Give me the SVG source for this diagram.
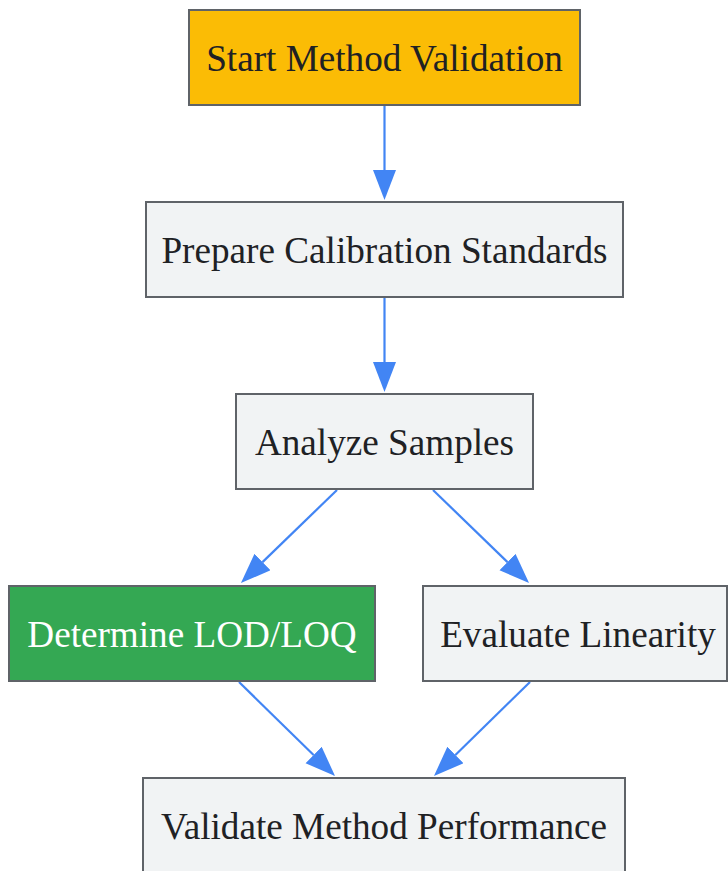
<svg xmlns="http://www.w3.org/2000/svg" width="728" height="871" viewBox="0 0 728 871">
<defs>
<style>
.box{stroke:#5f6368;stroke-width:2}
.gray{fill:#f1f3f4}
.lbl{font-family:"Liberation Serif","Times New Roman",serif;font-size:37.2px;text-anchor:middle;fill:#202124}
.edge{fill:none;stroke:#4285f4;stroke-width:2.2}
</style>
<marker id="ah" markerUnits="userSpaceOnUse" markerWidth="31" markerHeight="24" refX="0" refY="11.5" orient="auto">
<path d="M0,0 L30,11.5 L0,23 z" fill="#4285f4"/>
</marker>
</defs>
<rect width="728" height="871" fill="#ffffff"/>
<g id="edges">
<path class="edge" marker-end="url(#ah)" d="M384.5,105 L384.5,170"/>
<path class="edge" marker-end="url(#ah)" d="M384.5,297 L384.5,362"/>
<path class="edge" marker-end="url(#ah)" d="M337,490 L262.5,562.1"/>
<path class="edge" marker-end="url(#ah)" d="M433,490 L507.5,562.1"/>
<path class="edge" marker-end="url(#ah)" d="M239,682 L313.6,755"/>
<path class="edge" marker-end="url(#ah)" d="M530,682 L455.4,755"/>
</g>
<g id="start">
<rect class="box" x="189" y="10" width="391" height="95" fill="#fbbc05"/>
<text class="lbl" x="384.5" y="71">Start Method Validation</text>
</g>
<g id="prepare">
<rect class="box gray" x="146" y="202" width="477" height="95"/>
<text class="lbl" x="384.5" y="263">Prepare Calibration Standards</text>
</g>
<g id="analyze">
<rect class="box gray" x="236" y="394" width="297" height="95"/>
<text class="lbl" x="384.5" y="455">Analyze Samples</text>
</g>
<g id="lod">
<rect class="box" x="9" y="586" width="366" height="95" fill="#34a853"/>
<text class="lbl" x="192" y="647" style="fill:#ffffff">Determine LOD/LOQ</text>
</g>
<g id="linearity">
<rect class="box gray" x="423" y="586" width="304" height="95"/>
<text class="lbl" x="578" y="647">Evaluate Linearity</text>
</g>
<g id="validate">
<rect class="box gray" x="143" y="778" width="482" height="95"/>
<text class="lbl" x="384" y="839">Validate Method Performance</text>
</g>
</svg>
